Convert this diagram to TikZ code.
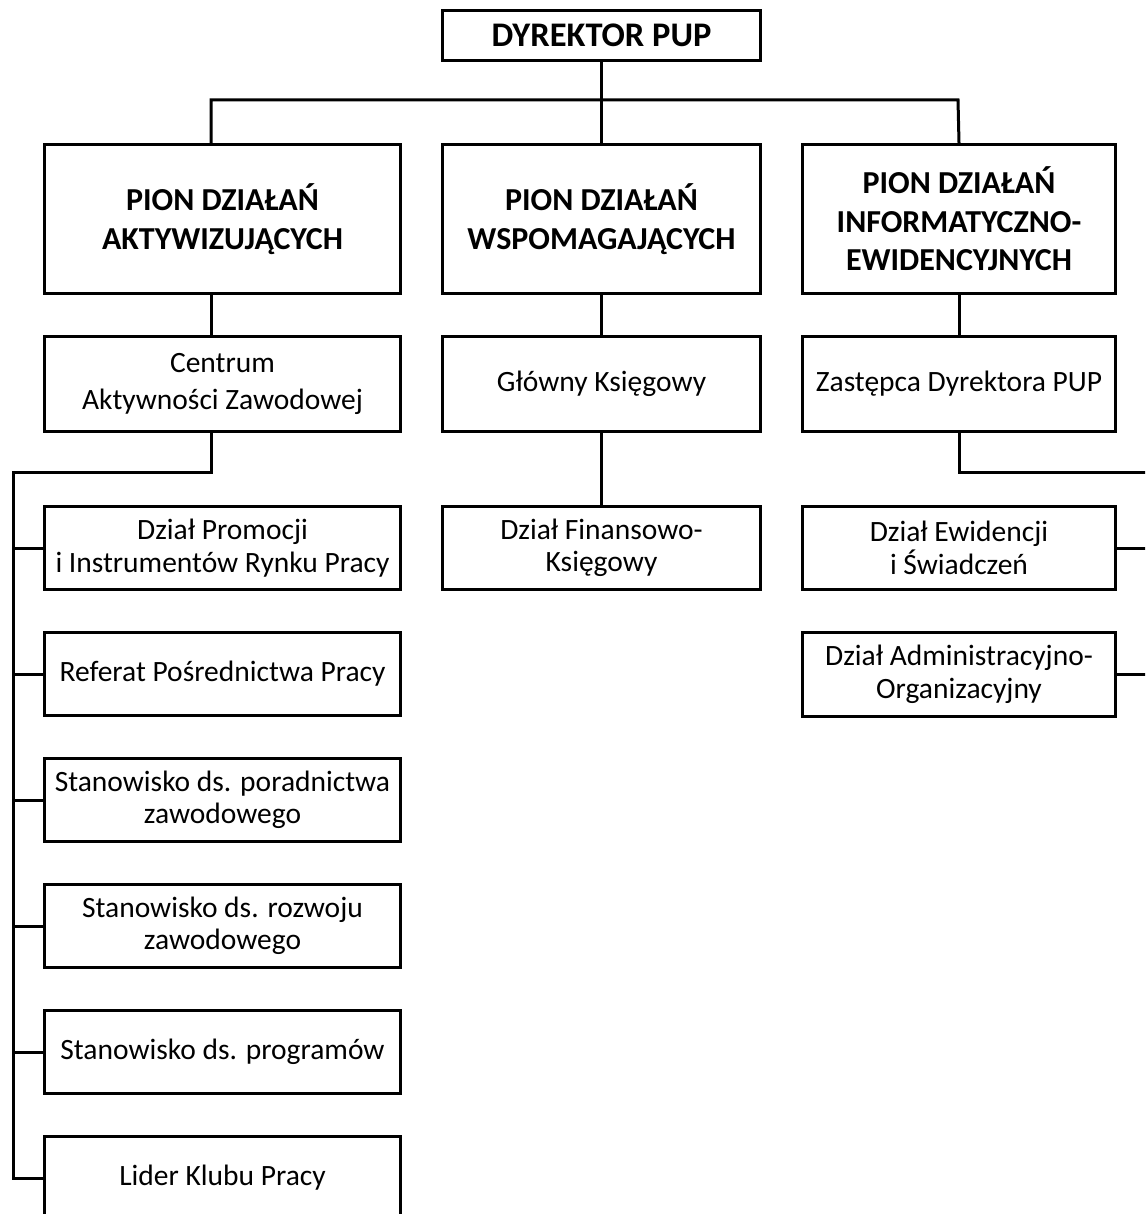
\documentclass[tikz,border=0pt]{standalone}
\usepackage{fontspec}
\setmainfont{Carlito}
\begin{document}
\begin{tikzpicture}[x=1pt,y=1pt,
  box/.style={draw, line width=3pt, inner sep=0pt, align=center, anchor=north west,
    font=\fontsize{29.5}{32.5}\selectfont},
  headbox/.style={box, font=\bfseries\fontsize{32}{38.5}\selectfont},
  conn/.style={line width=3pt}]
\useasboundingbox (0,0) rectangle (1145,-1214);
\clip (0,0) rectangle (1145,-1214);
% top
\node[box, font=\bfseries\fontsize{34.5}{36}\selectfont, minimum width=318pt, minimum height=50pt] (dir) at (441,-9) {DYREKTOR PUP};
% columns
\node[headbox, minimum width=356pt, minimum height=149pt] (pa) at (43,-143) {PION DZIAŁAŃ\\AKTYWIZUJĄCYCH};
\node[headbox, minimum width=318pt, minimum height=149pt] (pw) at (441,-143) {PION DZIAŁAŃ\\WSPOMAGAJĄCYCH};
\node[headbox, minimum width=313pt, minimum height=149pt] (pi) at (801,-143) {PION DZIAŁAŃ\\INFORMATYCZNO-\\EWIDENCYJNYCH};
% second row
\node[box, font=\fontsize{29.5}{37}\selectfont, minimum width=356pt, minimum height=95pt] (ca) at (43,-335) {Centrum\\Aktywności Zawodowej};
\node[box, minimum width=318pt, minimum height=95pt] (gk) at (441,-335) {Główny Księgowy};
\node[box, minimum width=313pt, minimum height=95pt] (zd) at (801,-335) {Zastępca Dyrektora PUP};
% left lower
\node[box, minimum width=356pt, minimum height=83pt] (l1) at (43,-505) {Dział Promocji\\i Instrumentów Rynku Pracy};
\node[box, minimum width=356pt, minimum height=83pt] (l2) at (43,-631) {Referat Pośrednictwa Pracy};
\node[box, minimum width=356pt, minimum height=83pt] (l3) at (43,-757) {Stanowisko ds. poradnictwa\\zawodowego};
\node[box, minimum width=356pt, minimum height=83pt] (l4) at (43,-883) {Stanowisko ds. rozwoju\\zawodowego};
\node[box, minimum width=356pt, minimum height=83pt] (l5) at (43,-1009) {Stanowisko ds. programów};
\node[box, minimum width=356pt, minimum height=83pt] (l6) at (43,-1135) {Lider Klubu Pracy};
% middle lower
\node[box, minimum width=318pt, minimum height=83pt] (fk) at (441,-505) {Dział Finansowo-\\Księgowy};
% right lower
\node[box, minimum width=313pt, minimum height=83pt] (ew) at (801,-505) {Dział Ewidencji\\i Świadczeń};
\node[box, minimum width=313pt, minimum height=84pt] (adm) at (801,-631) {Dział Administracyjno-\\Organizacyjny};
% connector coordinates
\coordinate (busL) at (211,-100);
\coordinate (busR) at (958,-100);
\coordinate (lb) at (13,-472);
\coordinate (rb) at (1152,-472);
% connectors
\draw[conn] (dir.south) -- (pw.north);
\draw[conn] (pa.north -| busL) -- (busL) -- (busR) -- (pi.north);
\draw[conn] (pa.south -| busL) -- (ca.north -| busL);
\draw[conn] (pw.south) -- (gk.north);
\draw[conn] (pi.south) -- (zd.north);
\draw[conn] (gk.south) -- (fk.north);
\draw[conn] (ca.south -| busL) |- (lb) -- (lb |- l6.west) -- (l6.west);
\foreach \n in {l1,l2,l3,l4,l5} \draw[conn] (lb |- \n.west) -- (\n.west);
\draw[conn] (zd.south) |- (rb) -- (rb |- adm.east) -- (adm.east);
\draw[conn] (ew.east) -- (ew.east -| rb);
\end{tikzpicture}
\end{document}
